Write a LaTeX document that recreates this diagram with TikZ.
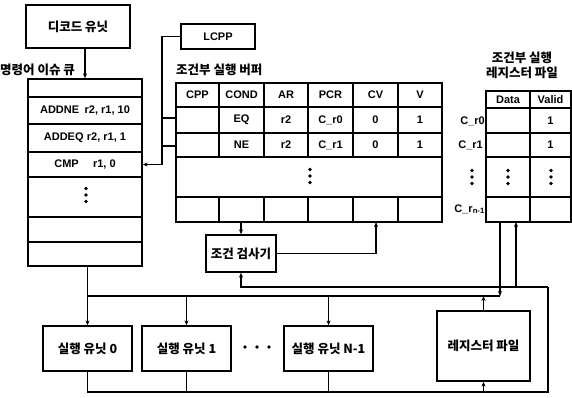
\documentclass[tikz,border=0pt]{standalone}
\usepackage{fontspec}
\setmainfont{Liberation Sans}
\newfontfamily\kr{Noto Sans CJK KR}
\usetikzlibrary{arrows.meta}
\begin{document}
\begin{tikzpicture}[x=1pt,y=-1pt,
  box/.style={draw,line width=1.3pt,inner sep=0pt,align=center},
  kt/.style={font=\kr\bfseries\fontsize{12.5}{15}\selectfont},
  lt/.style={font=\bfseries\fontsize{11}{12}\selectfont},
  conn/.style={line width=1.3pt},
  arr/.style={conn,-{Stealth[length=5pt,width=4pt]}},
  vd/.pic={\fill (0,-6.5) circle (1.8pt) (0,0) circle (1.8pt) (0,6.5) circle (1.8pt);},
  hd/.pic={\fill (-12,0) circle (1.9pt) (0,0) circle (1.9pt) (12,0) circle (1.9pt);}
]
\useasboundingbox (0,0) rectangle (572,397);

% decode unit and issue queue
\node[box,kt,minimum width=104pt,minimum height=43pt] (decode) at (78,26.5) {디코드 유닛};
\node[kt,anchor=west,inner sep=0pt] (qlabel) at (0,70) {명령어 이슈 큐};
\begin{scope}[every node/.append style={box,lt,minimum width=114pt}]
\node[minimum height=18pt] (q0) at (85,88) {};
\node[minimum height=27pt] (q1) at (85,110.5) {ADDNE\hspace{0.5em}r2, r1, 10};
\node[minimum height=28pt] (q2) at (85,138) {ADDEQ\hspace{0.3em}r2, r1, 1};
\node[minimum height=25pt] (q3) at (85,164.5) {CMP\hspace{1.3em}r1, 0};
\node[minimum height=40pt] (q4) at (85,197) {};
\node[minimum height=25pt] (q5) at (85,229.5) {};
\node[minimum height=24pt] (q6) at (85,254) {};
\end{scope}
\pic at (86,195) {vd};

% LCPP and conditional execution buffer
\node[box,lt,minimum width=74pt,minimum height=25pt] (lcpp) at (218,36.5) {LCPP};
\node[kt,anchor=west,inner sep=0pt] (buflabel) at (176,70) {조건부 실행 버퍼};
\node[box,minimum width=266pt,minimum height=139pt] (buf) at (309,152.5) {};
\foreach \y in {107,133,157,197} \draw[conn] (176,\y) -- (442,\y);
\foreach \x in {219,264,308,353,398} {\draw[conn] (\x,83) -- (\x,157); \draw[conn] (\x,197) -- (\x,222);}
\foreach \t/\x [count=\i] in {CPP/197.5,COND/241.5,AR/286,PCR/330.5,CV/375.5,V/420}
  \node[lt] (bh\i) at (\x,95) {\t};
\foreach \t/\x [count=\i] in {EQ/241.5,r2/286,C\_r0/330.5,0/375.5,1/420}
  \node[lt] (be\i) at (\x,120) {\t};
\foreach \t/\x [count=\i] in {NE/241.5,r2/286,C\_r1/330.5,0/375.5,1/420}
  \node[lt] (bn\i) at (\x,145) {\t};
\pic at (310,176) {vd};

% conditional execution register file
\node[kt,align=center,inner sep=0pt] (crflabel) at (522,65.5) {조건부 실행\\레지스터 파일};
\node[box,minimum width=85pt,minimum height=131pt] (crf) at (528.5,156.5) {};
\foreach \y in {108,133,157,197} \draw[conn] (486,\y) -- (571,\y);
\draw[conn] (530,91) -- (530,222);
\node[lt] (cdata) at (508,99.5) {Data};
\node[lt] (cvalid) at (550.5,99.5) {Valid};
\node[lt] (cv1) at (550.5,120.5) {1};
\node[lt] (cv2) at (550.5,145) {1};
\pic at (508,177) {vd};
\pic at (551,177) {vd};
\node[lt,anchor=east,inner sep=0pt] (cr0) at (485,121) {C\_r0};
\node[lt,anchor=east,inner sep=0pt] (cr1) at (483,145) {C\_r1};
\pic at (472,177) {vd};
\node[lt,anchor=east,inner sep=0pt] (crn) at (485,209) {C\_r\textsubscript{n-1}};

% condition checker, execution units, register file
\node[box,kt,minimum width=70pt,minimum height=37pt] (chk) at (241,253.5) {조건 검사기};
\node[box,kt,minimum width=89pt,minimum height=45pt] (eu0) at (87.5,348.5) {실행 유닛 0};
\node[box,kt,minimum width=89pt,minimum height=45pt] (eu1) at (186.5,348.5) {실행 유닛 1};
\node[box,kt,minimum width=89pt,minimum height=45pt] (euN) at (328.5,348.5) {실행 유닛 N-1};
\pic at (257,347) {hd};
\node[box,kt,minimum width=93pt,minimum height=70pt] (rf) at (483.5,346) {레지스터 파일};

% coordinates for buses
\coordinate (busL) at (87.5,296);
\coordinate (busR) at (500,296);
\coordinate (botL) at (87.5,392);
\coordinate (botR) at (548,392);
\coordinate (topR) at (548,287);
\coordinate (vx) at (162,36.5);
\coordinate (crfin) at (516,222);
\coordinate (bufin) at (376,222);
\coordinate (s1) at (176,118);
\coordinate (s2) at (176,146);

% connectors
\draw[arr] (decode.south -| q0.north) -- (q0.north);
\draw[conn] (q6.south -| busL) -- (busL) -- (busR);
\draw[arr] (busL) -- (eu0.north);
\draw[arr] (busL -| eu1.north) -- (eu1.north);
\draw[arr] (busL -| euN.north) -- (euN.north);
\draw[arr] (crf.south -| busR) -- (busR);
\draw[arr] (rf.north) -- (rf.north |- busR);
\draw[conn] (eu0.south) -- (botL) -- (botR) -- (topR);
\draw[conn] (eu1.south) -- (eu1.south |- botL);
\draw[conn] (euN.south) -- (euN.south |- botL);
\draw[arr] (rf.south |- botL) -- (rf.south);
\draw[arr] (topR) -| (chk.south);
\draw[arr] (topR -| crfin) -- (crfin);
\draw[arr] (buf.south -| chk.north) -- (chk.north);
\draw[arr] (chk.east) -| (bufin);
\draw[arr] (lcpp.west) -- (vx) -- (vx |- q3.east) -- (q3.east);
\draw[conn] (vx |- s1) -- (s1);
\draw[conn] (vx |- s2) -- (s2);
\end{tikzpicture}
\end{document}
